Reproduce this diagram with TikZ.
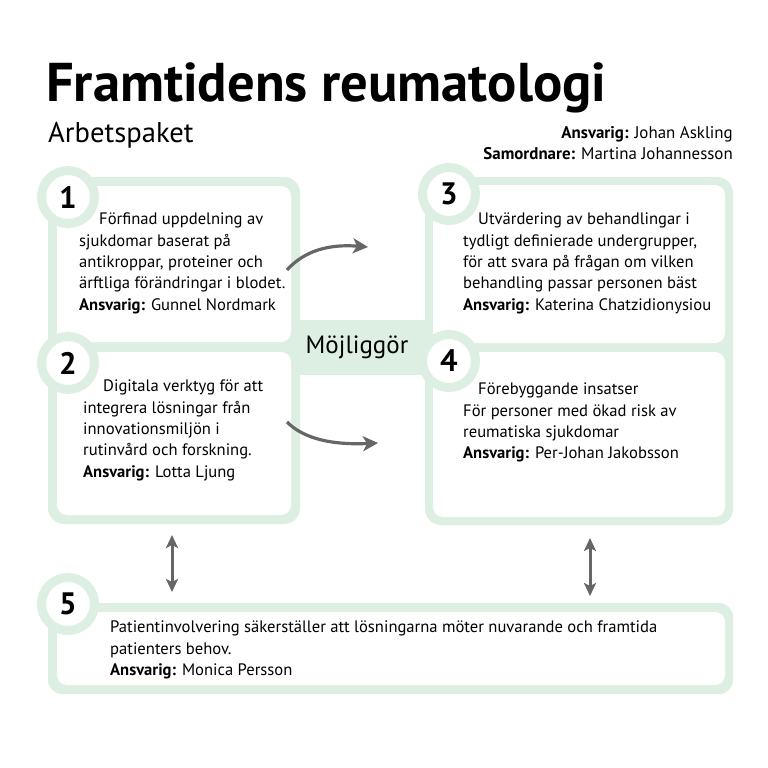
\documentclass[tikz,border=0pt]{standalone}
\usepackage{fontspec}
\setmainfont{PT Sans}
\usetikzlibrary{arrows.meta}
\definecolor{lgreen}{HTML}{DDEFE3}
\definecolor{agray}{HTML}{666666}
\begin{document}
\begin{tikzpicture}[x=1pt,y=-1pt,
  wbox/.style={fill=white, rounded corners=10pt, inner sep=0pt},
  numc/.style={circle, fill=white, draw=lgreen, line width=9pt, minimum size=53pt, inner sep=0pt, font=\fontsize{31}{31}\selectfont\bfseries},
  body/.style={anchor=north west, align=left, inner sep=0pt, font=\fontsize{16.6}{21.3}\selectfont},
  conn/.style={agray, line width=3.2pt, -{Stealth[length=15pt,width=15pt,inset=4pt]}},
  dconn/.style={agray, line width=3pt, {Stealth[length=13pt,width=12pt,inset=3pt]}-{Stealth[length=13pt,width=12pt,inset=3pt]}}
]
\useasboundingbox (0,0) rectangle (768,768);
\fill[white] (0,0) rectangle (768,768);
% header
\node[anchor=base west, inner sep=0pt, font=\fontsize{54.6}{55}\selectfont\bfseries] (title) at (46,101) {Framtidens reumatologi};
\node[anchor=base west, inner sep=0pt, font=\fontsize{28.6}{29}\selectfont] (sub) at (48,142) {Arbetspaket};
\node[anchor=base east, inner sep=0pt, font=\fontsize{16.9}{20}\selectfont] (resp) at (733,138) {\textbf{Ansvarig:} Johan Askling};
\node[anchor=base east, inner sep=0pt, font=\fontsize{16.9}{20}\selectfont] (coord) at (733,159) {\textbf{Samordnare:} Martina Johannesson};
% green frames
\fill[lgreen, rounded corners=16pt] (48,177) rectangle (300,524);
\fill[lgreen, rounded corners=16pt] (425,177) rectangle (733,525);
\fill[lgreen] (295,320) rectangle (430,375);
\fill[lgreen, rounded corners=14pt] (48,603) rectangle (733,694);
% white boxes
\node[wbox, minimum width=234pt, minimum height=156pt] (b1) at (174,264) {};
\node[wbox, minimum width=234pt, minimum height=163pt] (b2) at (174,433.5) {};
\node[wbox, minimum width=292pt, minimum height=158pt] (b3) at (579,264) {};
\node[wbox, minimum width=292pt, minimum height=165pt] (b4) at (579,434.5) {};
\node[wbox, minimum width=668pt, minimum height=73pt] (b5) at (391,648.5) {};
% center label
\node[inner sep=0pt, font=\fontsize{25}{25}\selectfont] (mid) at (357,347) {Möjliggör};
% circles
\node[numc] (c1) at (68,197) {1};
\node[numc] (c2) at (68,363) {2};
\node[numc] (c3) at (449,194) {3};
\node[numc] (c4) at (449,361) {4};
\node[numc] (c5) at (68,604) {5};
% texts
\node[body] (t1) at (79,213) {\hspace*{20pt}Förfinad uppdelning av\\sjukdomar baserat på\\antikroppar, proteiner och\\ärftliga förändringar i blodet.\\\textbf{Ansvarig:} Gunnel Nordmark};
\node[body] (t2) at (83,380) {\hspace*{20pt}Digitala verktyg för att\\integrera lösningar från\\innovationsmiljön i\\rutinvård och forskning.\\\textbf{Ansvarig:} Lotta Ljung};
\node[body] (t3) at (463,213) {\hspace*{15pt}Utvärdering av behandlingar i\\tydligt definierade undergrupper,\\för att svara på frågan om vilken\\behandling passar personen bäst\\\textbf{Ansvarig:} Katerina Chatzidionysiou};
\node[body] (t4) at (463,383) {\hspace*{15pt}Förebyggande insatser\\För personer med ökad risk av\\reumatiska sjukdomar\\\textbf{Ansvarig:} Per-Johan Jakobsson};
\node[body] (t5) at (110,621) {Patientinvolvering säkerställer att lösningarna möter nuvarande och framtida\\patienters behov.\\\textbf{Ansvarig:} Monica Persson};
% connectors
\coordinate (a1s) at (287,270);
\coordinate (a1e) at (368,247);
\coordinate (a2s) at (287,422);
\coordinate (a2e) at (378,443);
\coordinate (d1s) at (172,535);
\coordinate (d1e) at (172,592);
\coordinate (d2s) at (590,538);
\coordinate (d2e) at (590,596);
\draw[conn] (a1s) .. controls (305,250) and (330,244) .. (a1e);
\draw[conn] (a2s) .. controls (305,440) and (335,445) .. (a2e);
\draw[dconn] (d1s) -- (d1e);
\draw[dconn] (d2s) -- (d2e);
\end{tikzpicture}
\end{document}
